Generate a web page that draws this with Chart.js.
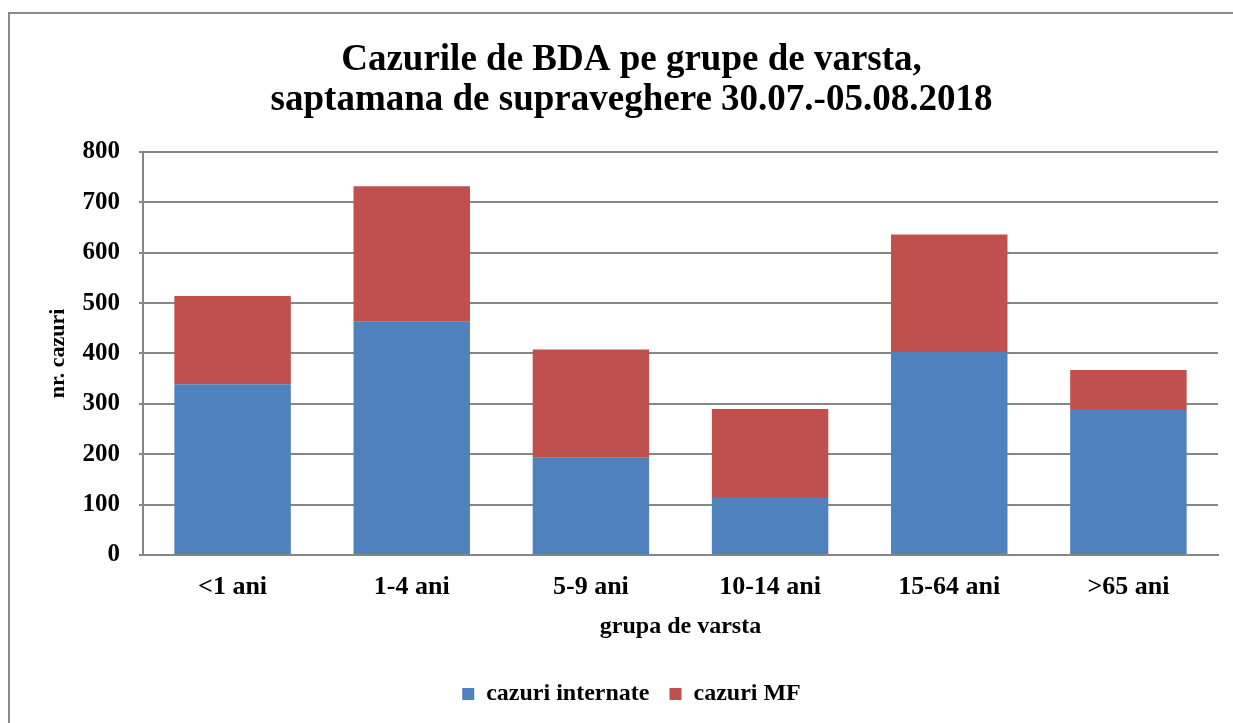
<!DOCTYPE html>
<html>
<head>
<meta charset="utf-8">
<script src="https://cdn.jsdelivr.net/npm/chart.js@4/dist/chart.umd.min.js"></script>
<style>
html,body{margin:0;padding:0;background:#fff;overflow:hidden;width:1233px;height:723px;}
#frame{position:absolute;left:8px;top:12px;width:1260px;height:760px;border-left:2px solid #8a8a8a;border-top:2px solid #8a8a8a;box-sizing:border-box;}
#wrap{position:absolute;left:0;top:0;width:1233px;height:723px;}
</style>
</head>
<body>
<div id="frame"></div>
<div id="wrap"><canvas id="c" width="1233" height="723"></canvas></div>
<script>
const categories = ['<1 ani', '1-4 ani', '5-9 ani', '10-14 ani', '15-64 ani', '>65 ani'];
const internate = [339, 463, 193, 113, 403, 288];
const mf = [175, 269, 215, 177, 233, 79];
const yTicks = [0, 100, 200, 300, 400, 500, 600, 700, 800];
const titleLines = ['Cazurile de BDA pe grupe de varsta,', 'saptamana de supraveghere 30.07.-05.08.2018'];

const FONT = "'Liberation Serif', 'Times New Roman', serif";

new Chart(document.getElementById('c'), {
  type: 'bar',
  data: {
    labels: categories,
    datasets: [
      { label: 'cazuri internate', data: internate, backgroundColor: '#4F81BD', borderWidth: 0 },
      { label: 'cazuri MF', data: mf, backgroundColor: '#C0504D', borderWidth: 0 }
    ]
  },
  options: {
    responsive: false,
    animation: false,
    devicePixelRatio: 1,
    layout: { padding: { left: 45, right: 15, top: 0, bottom: 7 } },
    datasets: { bar: { categoryPercentage: 1, barPercentage: 0.65 } },
    plugins: {
      title: {
        display: true,
        text: titleLines,
        color: '#000',
        font: { family: FONT, size: 37, weight: 'bold', lineHeight: 1.08 },
        padding: { top: 40, bottom: 32 }
      },
      legend: {
        position: 'bottom',
        labels: {
          color: '#000',
          font: { family: FONT, size: 24, weight: 'bold' },
          boxWidth: 12, boxHeight: 12, padding: 20
        }
      },
      tooltip: { enabled: false }
    },
    scales: {
      x: {
        stacked: true,
        grid: { display: false, drawTicks: false },
        border: { display: true, color: '#868686', width: 2 },
        ticks: { color: '#000', font: { family: FONT, size: 26, weight: 'bold' }, padding: 17 },
        title: { display: true, text: 'grupa de varsta', color: '#000', font: { family: FONT, size: 24, weight: 'bold' }, padding: { top: 0, bottom: 21 } },
        afterFit: s => { s.height = 107; }
      },
      y: {
        stacked: true,
        min: 0, max: 800,
        afterBuildTicks: s => { s.ticks = yTicks.map(v => ({ value: v })); },
        grid: { color: '#868686', lineWidth: 2, tickLength: 4, drawTicks: true },
        border: { display: true, color: '#868686', width: 2 },
        ticks: { color: '#000', font: { family: FONT, size: 25, weight: 'bold' }, padding: 19 },
        title: { display: true, text: 'nr. cazuri', color: '#000', font: { family: FONT, size: 22, weight: 'bold' }, padding: { top: 0, bottom: 0 } },
        afterFit: s => { s.width = 98; }
      }
    }
  }
});
</script>
</body>
</html>
